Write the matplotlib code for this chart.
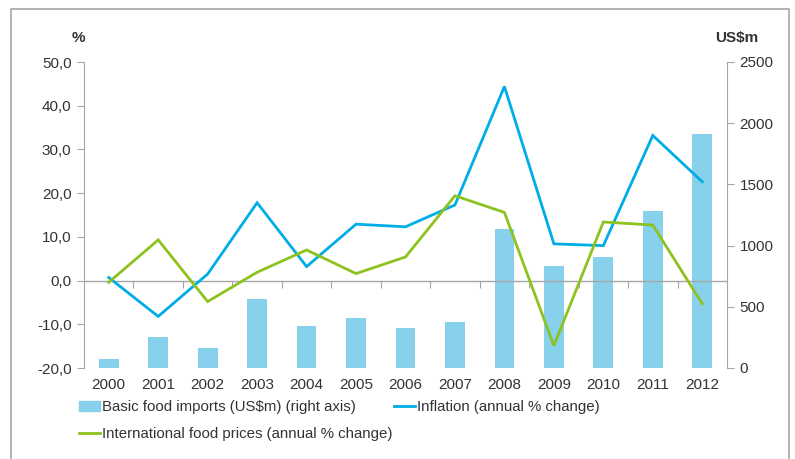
import numpy as np
import matplotlib
matplotlib.use("Agg")
import matplotlib.pyplot as plt
from matplotlib.patches import Patch
from matplotlib.lines import Line2D

plt.rcParams['font.family'] = ['Liberation Sans', 'DejaVu Sans']

# data
years = ['2000', '2001', '2002', '2003', '2004', '2005', '2006',
         '2007', '2008', '2009', '2010', '2011', '2012']
food_imports = [75, 250, 165, 565, 341, 411, 329, 376, 1133, 833, 909, 1283, 1912]
inflation = [0.7, -8.2, 1.5, 17.8, 3.2, 12.9, 12.3, 17.3, 44.4, 8.4, 8.0, 33.2, 22.6]
intl_prices = [-0.4, 9.3, -4.8, 1.9, 7.0, 1.6, 5.4, 19.4, 15.6, -14.9, 13.4, 12.7, -5.3]

bar_col = '#87D1EC'
blue = '#00ADE6'
green = '#8DC21F'
grey = '#A6A6A6'
txt = '#333333'
fs = 11

fig = plt.figure(figsize=(7.95, 4.59), dpi=100)
ax = fig.add_axes([84/795, 1-368/459, 643/795, 306/459])
ax2 = ax.twinx()

x = np.arange(len(years))
ax2.bar(x, food_imports, width=0.4, color=bar_col, zorder=1)
ax.plot(x, inflation, color=blue, lw=2, solid_joinstyle='miter')
ax.plot(x, intl_prices, color=green, lw=2, solid_joinstyle='miter')

ax.set_zorder(ax2.get_zorder() + 1)
ax.patch.set_visible(False)

ax.set_xlim(-0.5, len(years) - 0.5)
ax.set_ylim(-20, 50)
ax2.set_ylim(0, 2500)
ax.set_yticks(np.arange(-20, 51, 10))
ax.set_yticklabels([f"{v:.1f}".replace('.', ',') for v in np.arange(-20, 51, 10)])
ax2.set_yticks(np.arange(0, 2501, 500))

for a in (ax, ax2):
    for s in ('top', 'bottom'):
        a.spines[s].set_visible(False)
    a.spines['left'].set_color(grey)
    a.spines['right'].set_color(grey)
ax.spines['right'].set_visible(False)
ax2.spines['left'].set_visible(False)

ax.tick_params(axis='y', colors=grey, labelcolor=txt, labelsize=fs, length=5, pad=4)
ax2.tick_params(axis='y', colors=grey, labelcolor=txt, labelsize=fs, length=5, pad=4)

# year labels at the bottom, no ticks
ax.set_xticks(x)
ax.set_xticklabels(years)
ax.tick_params(axis='x', length=0, labelsize=fs, labelcolor=txt, pad=7)

# category axis sitting at zero with ticks between categories
ax.axhline(0, color=grey, lw=1, zorder=0)
sec = ax.secondary_xaxis(20/70)
sec.set_xticks(np.arange(0.5, len(years) - 1, 1))
sec.set_xticklabels([])
sec.tick_params(axis='x', length=5, color=grey, direction='out')
sec.spines['bottom'].set_visible(False)

fig.text(78/795, 1-38/459, '%', fontsize=fs, fontweight='bold', color=txt,
         ha='center', va='center')
fig.text(737/795, 1-38/459, 'US$m', fontsize=fs, fontweight='bold', color=txt,
         ha='center', va='center')

handles = [Patch(color=bar_col),
           Line2D([], [], color=green, lw=2),
           Line2D([], [], color=blue, lw=2)]
labels = ['Basic food imports (US$m) (right axis)',
          'International food prices (annual % change)',
          'Inflation (annual % change)']
fig.legend(handles, labels, ncol=2, loc='upper left',
           bbox_to_anchor=(79/795, 1-400/459), frameon=False,
           fontsize=10.8, handlelength=1.4, handleheight=0.7,
           handletextpad=0.15, columnspacing=0.05, labelspacing=0.85,
           borderaxespad=0, borderpad=0, labelcolor=txt)

# outer frame (left, top, right)
fx = [10.5/795, 10.5/795, 789/795, 789/795]
fy = [0, 1-9/459, 1-9/459, 0]
fig.add_artist(Line2D(fx, fy, color=grey, lw=1.2, transform=fig.transFigure))

fig.savefig('out.png', dpi=100)
